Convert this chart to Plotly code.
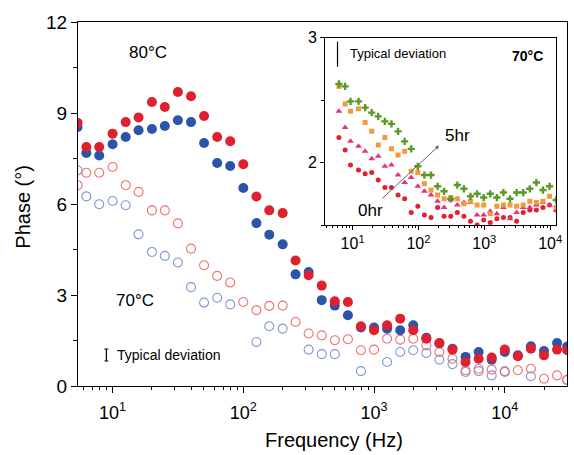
import plotly.graph_objects as go

# ---------------- main panel data ----------------
freq_hz = [5.4, 6.3, 7.9, 10, 12.6, 15.8, 20, 25.1, 31.6, 39.8,
           50.1, 63.1, 79.4, 100, 126, 158, 200, 251, 316, 398,
           501, 631, 794, 1000, 1259, 1585, 1995, 2512, 3162, 3981,
           5012, 6310, 7943, 10000, 12589, 15849, 19953, 25119, 30000]

phase_80_red = [8.68, 7.88, 7.88, 8.32, 8.70, 8.85, 9.36, 9.20, 9.69, 9.55,
                8.90, 8.21, 8.07, 7.31, 6.25, 5.79, 5.70, 4.14, 3.65, 3.31,
                2.79, 2.77, 1.97, 1.84, 2.00, 2.22, 1.84, 1.56, 1.42, 1.20,
                0.79, 0.90, 0.94, 1.20, 0.98, 1.23, 1.01, 1.20, 1.18]
phase_80_blue = [8.54, 7.68, 7.60, 7.97, 8.21, 8.43, 8.47, 8.57, 8.76, 8.70,
                 8.01, 7.35, 7.25, 6.53, 5.37, 4.99, 4.67, 3.68, 3.76, 2.83,
                 2.65, 2.33, 1.93, 1.93, 1.89, 1.84, 2.00, 1.59, 1.40, 1.23,
                 0.96, 1.12, 0.87, 1.12, 1.01, 1.31, 1.15, 1.42, 1.30]
phase_70_red = [6.62, 7.03, 7.03, 7.22, 6.62, 6.40, 5.79, 5.79, 5.36, 4.53,
                3.98, 3.63, 3.41, 2.77, 2.50, 2.64, 2.65, 2.11, 1.73, 1.67,
                1.51, 1.54, 1.18, 1.20, 1.56, 1.53, 1.56, 1.34, 1.12, 0.90,
                0.52, 0.49, 0.54, 0.46, 0.52, 0.57, 0.24, 0.35, 0.21]
phase_70_blue = [7.11, 6.25, 5.99, 6.10, 5.96, 5.00, 4.42, 4.29, 4.07, 3.26,
                 2.75, 2.91, 2.69, None, 1.45, 1.97, 1.89, None, 1.20, 1.05,
                 1.05, None, 0.49, None, 0.79, 1.12, 1.18, 1.09, 0.87, 0.72,
                 0.46, 0.57, 0.35, 0.49, None, 0.32, None, None, 0.19]

# ---------------- inset data (70 C, ageing 0 hr -> 5 hr) ----------------
inset_freq_hz = [6.2, 7.7, 9.3, 12.3, 15.5, 19.5, 24.5, 30.9, 38.9, 49.0,
                 61.7, 77.6, 97.7, 123, 155, 195, 245, 309, 389, 490,
                 617, 776, 977, 1230, 1549, 1950, 2455, 3090, 3890, 4898,
                 6166, 7762, 9772, 12303]
inset_0hr = [2.20, 2.10, 1.98, 1.94, 1.91, 1.92, 1.86, 1.80, 1.80, 1.74,
             1.71, 1.60, 1.65, 1.58, 1.56, 1.64, 1.57, 1.57, 1.60, 1.57,
             1.53, 1.50, 1.54, 1.52, 1.55, 1.56, 1.56, 1.53, 1.60, 1.62,
             1.62, 1.64, 1.66, 1.62]
inset_t2 = [2.41, 2.28, 2.17, 2.13, 2.09, 2.03, 2.05, 1.97, 1.98, 1.90,
            1.84, 1.88, 1.81, 1.77, 1.74, 1.69, 1.64, 1.70, 1.66, 1.68,
            1.68, 1.58, 1.58, 1.61, 1.59, 1.64, 1.55, 1.60, 1.64, 1.64,
            1.66, 1.68, 1.66, 1.62]
inset_t3 = [2.61, 2.47, 2.41, 2.43, 2.32, 2.25, 2.14, 2.20, 2.11, 2.06,
            2.09, 1.93, 1.92, 1.83, 1.78, 1.74, 1.71, 1.72, 1.71, 1.67,
            1.69, 1.66, 1.66, 1.59, 1.65, 1.66, 1.66, 1.65, 1.66, 1.69,
            1.68, 1.69, 1.73, 1.64]
inset_5hr = [2.63, 2.61, 2.49, 2.49, 2.44, 2.40, 2.37, 2.33, 2.31, 2.25,
             2.17, 2.11, 1.97, 1.90, 1.90, 1.81, 1.77, 1.71, 1.82, 1.79,
             1.73, 1.75, 1.72, 1.75, 1.72, 1.76, 1.71, 1.76, 1.76, 1.79,
             1.84, 1.78, 1.81, 1.70]

x_tickvals = [10, 100, 1000, 10000]
x_ticktext = ["10<sup>1</sup>", "10<sup>2</sup>", "10<sup>3</sup>", "10<sup>4</sup>"]

RED = "#E0202E"
BLUE = "#2B55A8"
RED_LIGHT = "#EC7272"
BLUE_LIGHT = "#8196D8"
FONT = "Liberation Sans, Arial, sans-serif"

fig = go.Figure()

# open circles: 70 C
fig.add_trace(go.Scatter(x=freq_hz, y=phase_70_blue, mode="markers",
                         marker=dict(symbol="circle-open", size=9, color=BLUE_LIGHT,
                                     line=dict(width=1.1, color=BLUE_LIGHT))))
fig.add_trace(go.Scatter(x=freq_hz, y=phase_70_red, mode="markers",
                         marker=dict(symbol="circle-open", size=9, color=RED_LIGHT,
                                     line=dict(width=1.1, color=RED_LIGHT))))
# filled circles: 80 C
fig.add_trace(go.Scatter(x=freq_hz, y=phase_80_blue, mode="markers",
                         marker=dict(symbol="circle", size=10, color=BLUE)))
fig.add_trace(go.Scatter(x=freq_hz, y=phase_80_red, mode="markers",
                         marker=dict(symbol="circle", size=10, color=RED)))

# inset series
fig.add_trace(go.Scatter(x=inset_freq_hz, y=inset_0hr, mode="markers", xaxis="x2", yaxis="y2",
                         marker=dict(symbol="circle", size=5, color="#E2202F")))
fig.add_trace(go.Scatter(x=inset_freq_hz, y=inset_t2, mode="markers", xaxis="x2", yaxis="y2",
                         marker=dict(symbol="triangle-up", size=6, color="#E8307C")))
fig.add_trace(go.Scatter(x=inset_freq_hz, y=inset_t3, mode="markers", xaxis="x2", yaxis="y2",
                         marker=dict(symbol="square", size=5, color="#F59A3C")))
fig.add_trace(go.Scatter(x=inset_freq_hz, y=inset_5hr, mode="markers", xaxis="x2", yaxis="y2",
                         marker=dict(symbol="cross", size=6, color="#5C9A28")))

# pixel helpers for the page layout
W_PAGE, H_PAGE = 574, 455
L, R, T, B = 78, 573, 22, 386
W, H = R - L, B - T


def px(x):
    return (x - L) / W


def py(y):
    return (B - y) / H


axis_common = dict(showline=True, linecolor="black", linewidth=1.2, mirror=True,
                   ticks="outside", tickcolor="black", showgrid=False, zeroline=False)

fig.update_layout(
    width=W_PAGE, height=H_PAGE,
    margin=dict(l=L, r=W_PAGE - R, t=T, b=H_PAGE - B),
    paper_bgcolor="white", plot_bgcolor="white",
    showlegend=False,
    font=dict(family=FONT, color="black"),
    xaxis=dict(type="log", range=[0.7355, 4.476], tickvals=x_tickvals, ticktext=x_ticktext,
               ticklen=6, tickwidth=1.2, tickfont=dict(size=18), ticklabelstandoff=4,
               minor=dict(ticks="outside", ticklen=3, tickcolor="black", dtick="D1", showgrid=False),
               **axis_common),
    yaxis=dict(range=[0, 12], tickvals=[0, 3, 6, 9, 12], ticklen=6, tickwidth=1.2,
               tickfont=dict(size=19),
               minor=dict(ticks="outside", ticklen=4, tickcolor="black", dtick=1.5, showgrid=False),
               **axis_common),
    xaxis2=dict(type="log", range=[0.585, 4.09], domain=[px(328.3), px(562)], anchor="y2",
                tickvals=x_tickvals, ticktext=x_ticktext, ticklen=4, tickwidth=1,
                tickfont=dict(size=16),
                minor=dict(ticks="outside", ticklen=2, tickcolor="black", dtick="D1", showgrid=False),
                **axis_common),
    yaxis2=dict(range=[1.5, 3.0], domain=[py(225), py(37.7)], anchor="x2",
                tickvals=[2, 3], ticklen=4, tickwidth=1, tickfont=dict(size=16),
                minor=dict(ticks="outside", ticklen=3, tickcolor="black", dtick=0.5, showgrid=False),
                **axis_common),
)

annotations = [
    dict(text="Phase (°)", x=px(22), y=py(207), textangle=-90, font=dict(size=20)),
    dict(text="Frequency (Hz)", x=px(337), y=py(440), font=dict(size=20)),
    dict(text="80°C", x=px(149), y=py(52), font=dict(size=17)),
    dict(text="70°C", x=px(136), y=py(300), font=dict(size=17)),
    dict(text="Typical deviation", x=px(115), y=py(355), xanchor="left", font=dict(size=14)),
    dict(text="Typical deviation", x=px(351), y=py(53), xanchor="left", font=dict(size=13)),
    dict(text="<b>70°C</b>", x=px(533), y=py(56), font=dict(size=14)),
    dict(text="5hr", x=px(462), y=py(135), font=dict(size=17)),
    dict(text="0hr", x=px(374), y=py(211), font=dict(size=17)),
]
for a in annotations:
    a.setdefault("xanchor", "center")
    a.update(xref="paper", yref="paper", yanchor="middle", showarrow=False)
fig.update_layout(annotations=annotations)

# ageing-direction arrow inside the inset (coordinates in inset axis units, log10 for x)
fig.add_annotation(x=2.313, y=2.136, ax=1.424, ay=1.70, xref="x2", yref="y2",
                   axref="x2", ayref="y2", showarrow=True, arrowhead=2, arrowsize=0.8,
                   arrowwidth=1, arrowcolor="#666666", text="")

# typical-deviation bars
fig.add_shape(type="line", xref="paper", yref="paper", x0=px(106.7), x1=px(106.7),
              y0=py(349), y1=py(361), line=dict(color="black", width=1.2))
for yy in (349, 361):
    fig.add_shape(type="line", xref="paper", yref="paper", x0=px(104.7), x1=px(108.7),
                  y0=py(yy), y1=py(yy), line=dict(color="black", width=1))
fig.add_shape(type="line", xref="paper", yref="paper", x0=px(340.7), x1=px(340.7),
              y0=py(41.7), y1=py(66.7), line=dict(color="black", width=1.2))

fig.write_html("out.html")
